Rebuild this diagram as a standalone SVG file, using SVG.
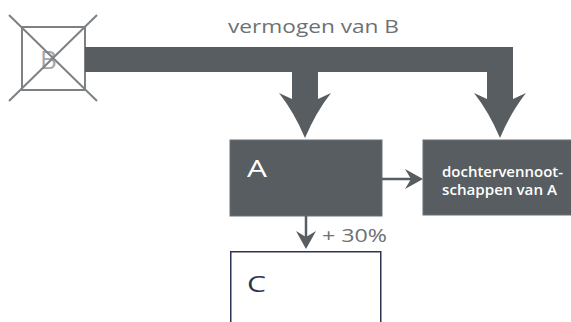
<svg xmlns="http://www.w3.org/2000/svg" width="571" height="322" viewBox="0 0 571 322">
  <style>
    .lbl { font-family: "Open Sans", "Liberation Sans", sans-serif; }
    .gray { fill: #6d7174; }
    .white { fill: #ffffff; }
    .navy { fill: #2e3353; }
    .box { fill: #575d60; stroke: #6b7174; stroke-width: 1; }
    .cross { stroke: #7d8184; stroke-width: 2; fill: none; }
    .conn { stroke: #575d60; stroke-width: 2.5; fill: none; }
    .head { fill: #575d60; }
  </style>

  <!-- B: struck-out entity -->
  <g id="node-B">
    <text class="lbl" x="40" y="69" font-size="26" fill="#a3a7a9">B</text>
    <rect x="22" y="27" width="63" height="63" class="cross"/>
    <line x1="9" y1="15" x2="97" y2="101" class="cross"/>
    <line x1="97" y1="15" x2="9" y2="101" class="cross"/>
  </g>

  <!-- A -->
  <g id="node-A">
    <rect x="230" y="140" width="152" height="76" class="box"/>
    <text class="lbl white" x="247" y="177" font-size="24" textLength="20" lengthAdjust="spacingAndGlyphs">A</text>
  </g>

  <!-- subsidiaries of A -->
  <g id="node-dochters">
    <rect x="423" y="140" width="160" height="75" class="box"/>
    <text class="lbl white" x="442" y="177" font-size="14.5" font-weight="600" textLength="121" lengthAdjust="spacingAndGlyphs">dochtervennoot-</text>
    <text class="lbl white" x="442" y="195" font-size="14.5" font-weight="600" textLength="115" lengthAdjust="spacingAndGlyphs">schappen van A</text>
  </g>

  <!-- C -->
  <g id="node-C">
    <rect x="230.75" y="251.75" width="150" height="90" fill="#ffffff" stroke="#2e3353" stroke-width="1.5"/>
    <text class="lbl navy" x="247" y="292" font-size="21" textLength="19" lengthAdjust="spacingAndGlyphs">C</text>
  </g>

  <g id="connectors">
    <!-- wide flow of B's assets splitting towards A and its subsidiaries -->
    <path class="head" d="M85,47 H513 V99 L526,93 Q511,112 500,138 Q489,112 474,93 L487,99 V72 H318 V99 L331,93 Q316,112 305,138 Q294,112 279,93 L292,99 V72 H85 Z"/>
    <text class="lbl gray" x="228" y="33" font-size="18" textLength="171" lengthAdjust="spacingAndGlyphs">vermogen van B</text>

    <!-- A to subsidiaries -->
    <line x1="382" y1="179" x2="412" y2="179" class="conn"/>
    <path class="head" d="M423,179 L405,169 L411,179 L405,189 Z"/>

    <!-- A to C -->
    <line x1="306" y1="216" x2="306" y2="240" class="conn"/>
    <path class="head" d="M306,249 L296,231 L306,237 L316,231 Z"/>
    <text class="lbl gray" x="322" y="242" font-size="18" textLength="65" lengthAdjust="spacingAndGlyphs">+ 30%</text>
  </g>
</svg>
